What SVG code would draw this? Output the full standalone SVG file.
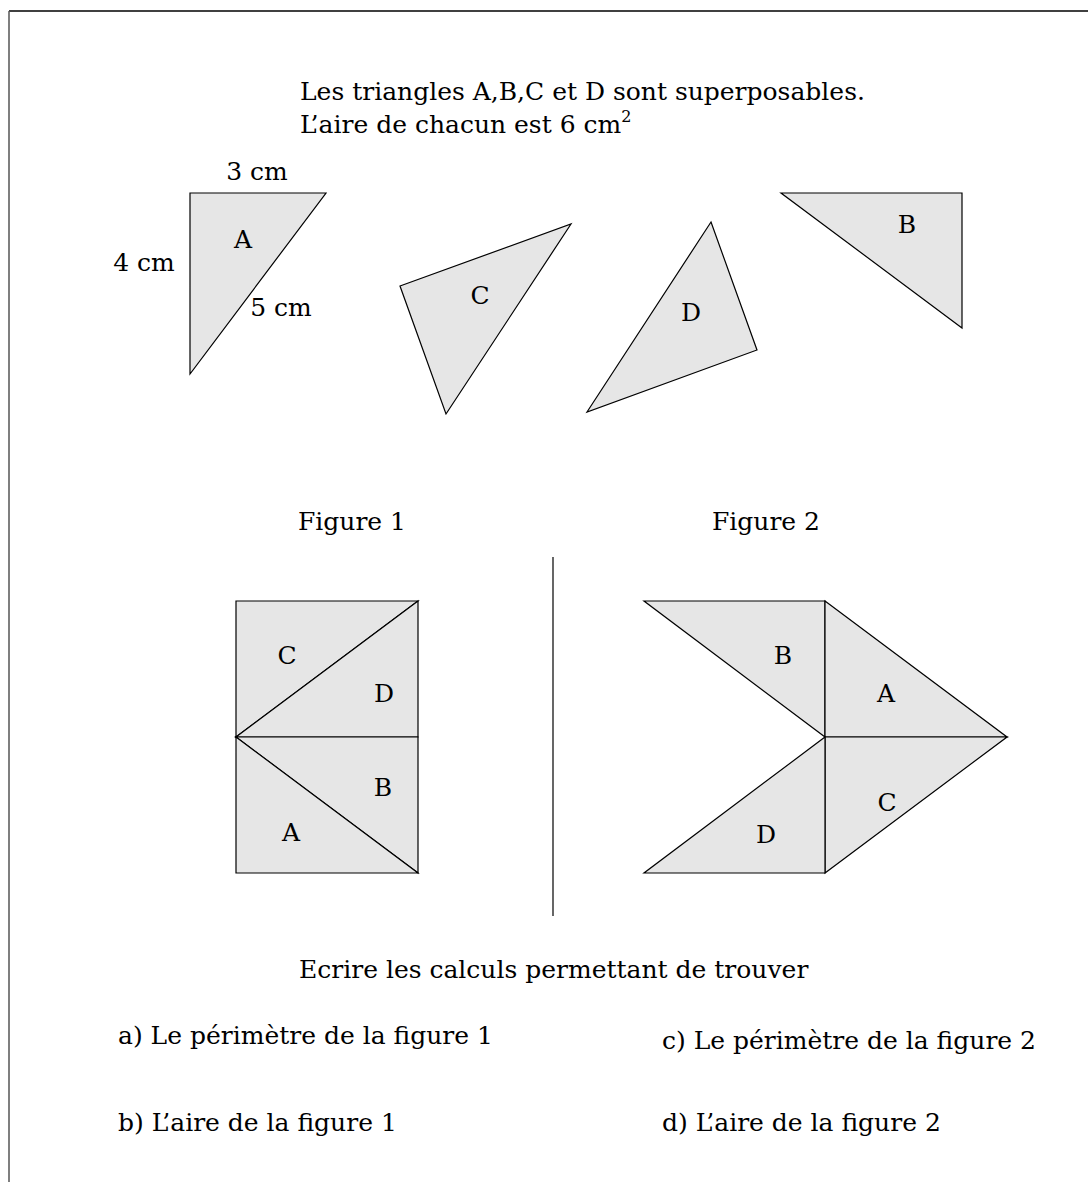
<svg xmlns="http://www.w3.org/2000/svg" width="1088" height="1182" viewBox="0 0 1088 1182">
<style>
text{font-family:"DejaVu Serif","Liberation Serif",serif;font-size:25px;fill:#000}
.tri{fill:#e6e6e6;stroke:#000;stroke-width:1.2;stroke-linejoin:miter}
.lbl{text-anchor:middle}
.edge{stroke:#000;stroke-width:1.2;fill:none}
</style>
<rect width="1088" height="1182" fill="#fff"/>
<g id="frame">
<line x1="9" y1="11" x2="1088" y2="11" stroke="#000" stroke-width="1.5"/>
<line x1="9" y1="11" x2="9" y2="1182" stroke="#555" stroke-width="1.5"/>
</g>
<g id="intro">
<text x="300" y="100">Les triangles A,B,C et D sont superposables.</text>
<text x="300" y="133">L’aire de chacun est 6 cm<tspan dy="-11" font-size="16">2</tspan></text>
</g>
<g id="triA">
<polygon class="tri" points="190,193 326,193 190,374"/>
<text class="lbl" x="243" y="248">A</text>
<text class="lbl" x="257" y="180">3 cm</text>
<text class="lbl" x="144" y="271">4 cm</text>
<text class="lbl" x="281" y="316">5 cm</text>
</g>
<g id="triC">
<polygon class="tri" points="400,286 571,224 446,414"/>
<text class="lbl" x="480" y="304">C</text>
</g>
<g id="triD">
<polygon class="tri" points="711,222 757,350 587,412"/>
<text class="lbl" x="691" y="321">D</text>
</g>
<g id="triB">
<polygon class="tri" points="781,193 962,193 962,328"/>
<text class="lbl" x="907" y="233">B</text>
</g>
<g id="captions">
<text class="lbl" x="352" y="530">Figure 1</text>
<text class="lbl" x="766" y="530">Figure 2</text>
</g>
<g id="figure1">
<polygon class="tri" points="236,601 418,601 236,737"/>
<polygon class="tri" points="418,601 418,737 236,737"/>
<polygon class="tri" points="236,737 418,737 418,873"/>
<polygon class="tri" points="236,737 418,873 236,873"/>
<text class="lbl" x="287" y="664">C</text>
<text class="lbl" x="384" y="702">D</text>
<text class="lbl" x="383" y="796">B</text>
<text class="lbl" x="291" y="841">A</text>
</g>
<g id="separator">
<line class="edge" x1="553" y1="557" x2="553" y2="916"/>
</g>
<g id="figure2">
<polygon class="tri" points="644,601 825,601 825,737"/>
<polygon class="tri" points="825,601 1007,737 825,737"/>
<polygon class="tri" points="825,737 1007,737 825,873"/>
<polygon class="tri" points="825,737 825,873 644,873"/>
<text class="lbl" x="783" y="664">B</text>
<text class="lbl" x="886" y="702">A</text>
<text class="lbl" x="887" y="811">C</text>
<text class="lbl" x="766" y="843">D</text>
</g>
<g id="questions">
<text x="299" y="978">Ecrire les calculs permettant de trouver</text>
<text x="118" y="1044">a) Le périmètre de la figure 1</text>
<text x="662" y="1049">c) Le périmètre de la figure 2</text>
<text x="118" y="1131">b) L’aire de la figure 1</text>
<text x="662" y="1131">d) L’aire de la figure 2</text>
</g>
</svg>
